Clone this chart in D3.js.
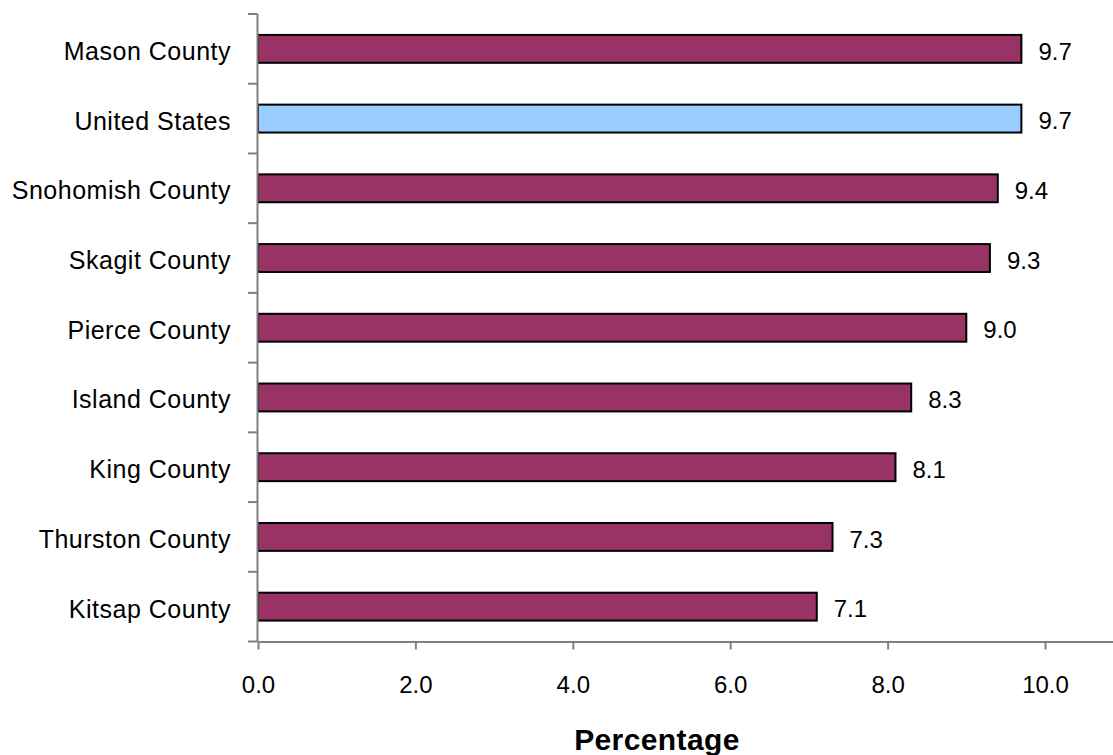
<!DOCTYPE html>
<html>
<head>
<meta charset="utf-8">
<script src="https://cdn.jsdelivr.net/npm/d3@7"></script>
<style>
  html, body { margin: 0; padding: 0; background: #fff; }
  svg { display: block; }
  text { font-family: "Liberation Sans", Arial, sans-serif; fill: #000; }
</style>
</head>
<body>
<svg id="chart" width="1113" height="755"></svg>
<script>
const categories = ["Mason County", "United States", "Snohomish County", "Skagit County",
  "Pierce County", "Island County", "King County", "Thurston County", "Kitsap County"];
const values = [9.7, 9.7, 9.4, 9.3, 9.0, 8.3, 8.1, 7.3, 7.1];
const highlight = ["United States"];
const xTicks = [0, 2, 4, 6, 8, 10];
const xTitle = "Percentage";

(function () {
const svg = d3.select("#chart");
const plotLeft = 258, plotTop = 14, plotBottom = 641.5;

const x = d3.scaleLinear().domain([0, 12]).range([plotLeft, plotLeft + 12 * 78.7]);
const y = d3.scaleBand().domain(categories).range([plotTop, plotBottom])
  .paddingInner(0.6).paddingOuter(0.3);

const data = categories.map((c, i) => ({ c, v: values[i] }));

// bars
svg.selectAll("rect.bar").data(data).join("rect")
  .attr("class", "bar")
  .attr("x", x(0))
  .attr("y", d => y(d.c))
  .attr("width", d => x(d.v) - x(0))
  .attr("height", y.bandwidth())
  .attr("fill", d => highlight.includes(d.c) ? "#99CCFF" : "#993366")
  .attr("stroke", "#000")
  .attr("stroke-width", 2);

// value labels
svg.selectAll("text.val").data(data).join("text")
  .attr("class", "val")
  .attr("x", d => x(d.v) + 17)
  .attr("y", d => y(d.c) + y.bandwidth() / 2 + 2)
  .attr("dy", "0.36em")
  .attr("font-size", 24)
  .text(d => d3.format(".1f")(d.v));

// y axis
const gy = svg.append("g");
gy.append("line").attr("x1", plotLeft - 0.5).attr("x2", plotLeft - 0.5)
  .attr("y1", plotTop).attr("y2", plotBottom)
  .attr("stroke", "#808080").attr("stroke-width", 2);
const step = y.step();
d3.range(categories.length + 1).forEach(k => {
  const yy = plotTop + k * step;
  gy.append("line").attr("x1", plotLeft - 10).attr("x2", plotLeft - 0.5)
    .attr("y1", yy).attr("y2", yy)
    .attr("stroke", "#808080").attr("stroke-width", 2);
});
gy.selectAll("text").data(categories).join("text")
  .attr("x", 231)
  .attr("y", d => y(d) + y.bandwidth() / 2 + 2)
  .attr("dy", "0.36em")
  .attr("text-anchor", "end")
  .attr("font-size", 25)
  .attr("letter-spacing", "0.5px")
  .text(d => d);

// x axis
const gx = svg.append("g").attr("transform", `translate(0,${plotBottom})`);
gx.call(d3.axisBottom(x).tickValues(xTicks).tickSize(8).tickSizeOuter(0)
  .tickFormat(d3.format(".1f")));
gx.select(".domain").attr("stroke", "#808080").attr("stroke-width", 2);
gx.selectAll(".tick line").attr("stroke", "#808080").attr("stroke-width", 2);
gx.selectAll(".tick text")
  .attr("font-size", 24)
  .attr("font-family", "Liberation Sans, Arial, sans-serif")
  .attr("fill", "#000")
  .attr("y", 34)
  .attr("dy", "0.71em");

svg.append("text")
  .attr("x", 657)
  .attr("y", 750)
  .attr("text-anchor", "middle")
  .attr("font-size", 30)
  .attr("font-weight", "bold")
  .attr("letter-spacing", "0.4px")
  .text(xTitle);
})();
</script>
</body>
</html>
